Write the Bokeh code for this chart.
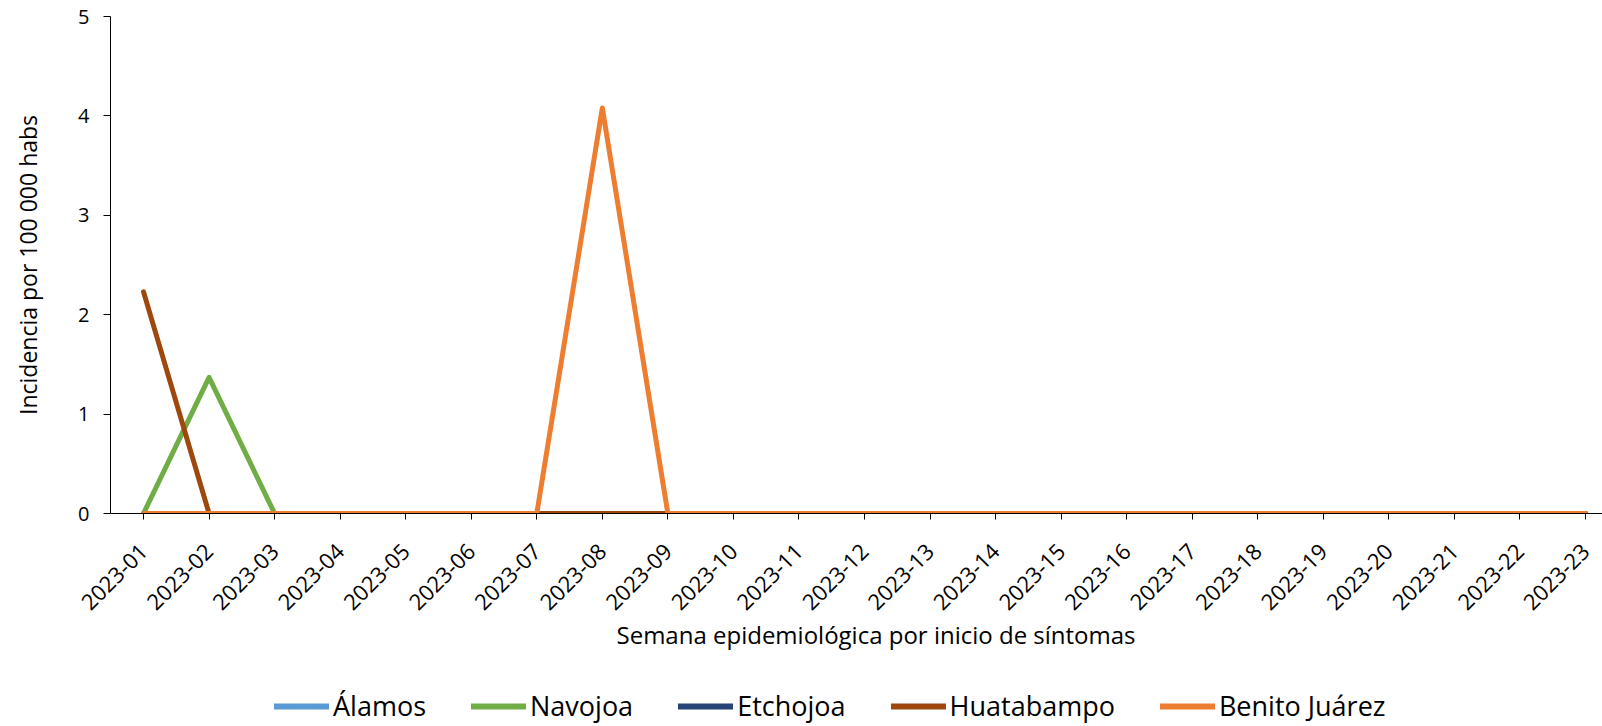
from math import pi
from bokeh.plotting import figure
from bokeh.layouts import column
from bokeh.models import Range1d, FixedTicker, Legend, LegendItem, Title
from bokeh.embed import file_html
from bokeh.resources import INLINE

weeks = ["2023-%02d" % i for i in range(1, 24)]
alamos = [0] * 23
navojoa = [0, 1.37] + [0] * 21
etchojoa = [0] * 23
huatabampo = [2.23] + [0] * 22
benito_juarez = [0] * 7 + [4.08] + [0] * 15

series = [
    ("Álamos", alamos, "#5B9BD5"),
    ("Navojoa", navojoa, "#70AD47"),
    ("Etchojoa", etchojoa, "#264478"),
    ("Huatabampo", huatabampo, "#9E480E"),
    ("Benito Juárez", benito_juarez, "#ED7D31"),
]

FONT = "Open Sans"
xs = list(range(1, len(weeks) + 1))

p = figure(width=1602, height=670, output_backend="svg", toolbar_location=None,
           x_range=Range1d(0.496, 23.26), y_range=Range1d(0, 5),
           min_border_left=110, min_border_right=0, min_border_top=16, min_border_bottom=157)
p.outline_line_color = None
p.xgrid.visible = False
p.ygrid.visible = False

for name, vals, color in series:
    p.line(xs, vals, line_color=color, line_width=5, line_join="round", line_cap="round")

p.xaxis.ticker = FixedTicker(ticks=xs)
p.xaxis.major_label_overrides = {x: w for x, w in zip(xs, weeks)}
p.xaxis.major_label_orientation = pi / 4
p.xaxis.minor_tick_line_color = None
p.xaxis.major_tick_in = 0
p.xaxis.major_tick_out = 6
p.xaxis.major_label_standoff = 28
p.xaxis.axis_line_color = "#000000"
p.xaxis.major_tick_line_color = "#000000"
p.xaxis.major_label_text_font = FONT
p.xaxis.major_label_text_font_size = "22px"
p.xaxis.major_label_text_color = "#000000"

xtitle = Title(text="Semana epidemiológica por inicio de síntomas", align="left", offset=506,
               standoff=-9, text_font=FONT, text_font_size="24px", text_font_style="normal",
               text_color="#000000")
p.add_layout(xtitle, "below")

p.yaxis.ticker = FixedTicker(ticks=[0, 1, 2, 3, 4, 5])
p.yaxis.minor_tick_line_color = None
p.yaxis.major_tick_in = 0
p.yaxis.major_tick_out = 7
p.yaxis.axis_line_color = "#000000"
p.yaxis.major_tick_line_color = "#000000"
p.yaxis.major_label_text_font = FONT
p.yaxis.major_label_text_font_size = "20px"
p.yaxis.major_label_text_color = "#000000"
p.yaxis.major_label_standoff = 14
p.yaxis.axis_label = "Incidencia por 100 000 habs"
p.yaxis.axis_label_text_font = FONT
p.yaxis.axis_label_text_font_size = "23px"
p.yaxis.axis_label_text_font_style = "normal"
p.yaxis.axis_label_text_color = "#000000"
p.yaxis.axis_label_standoff = 31

# legend strip below the chart (its lines sit outside the visible y range)
lg = figure(width=1602, height=56, output_backend="svg", toolbar_location=None,
            x_range=Range1d(0.496, 23.26), y_range=Range1d(10, 11), min_border=0,
            x_axis_location=None, y_axis_location=None)
lg.outline_line_color = None
lg.xgrid.visible = False
lg.ygrid.visible = False
items = []
for name, vals, color in series:
    r = lg.line(xs, vals, line_color=color, line_width=6, line_cap="round")
    items.append(LegendItem(label=name, renderers=[r]))
legend = Legend(items=items, orientation="horizontal", location=(164, 2),
                label_text_font=FONT, label_text_font_size="27px", label_text_color="#000000",
                glyph_width=55, glyph_height=20, label_standoff=4, spacing=45,
                border_line_color=None, background_fill_alpha=0, padding=0, margin=0)
lg.add_layout(legend, "center")

layout = column(p, lg, spacing=0)
open("out.html", "w").write(file_html(layout, INLINE))
